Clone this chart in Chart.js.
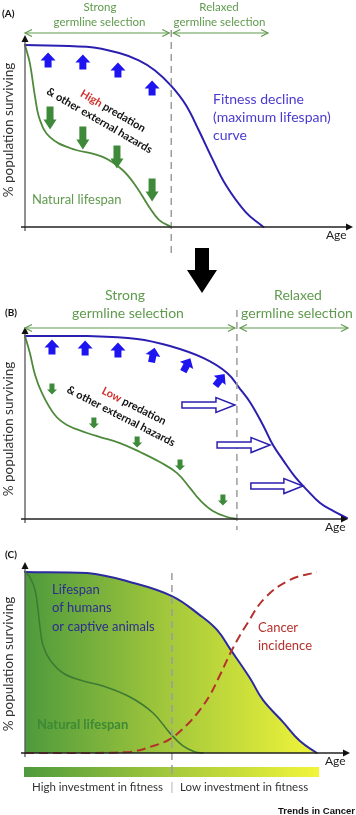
<!DOCTYPE html>
<html><head><meta charset="utf-8">
<script src="https://cdn.jsdelivr.net/npm/chart.js@4.4.0/dist/chart.umd.min.js"></script>
<style>
html,body{margin:0;padding:0;background:#fff;width:356px;height:815px;overflow:hidden;}
canvas{position:absolute;left:0;}
</style></head><body>
<canvas id="cA" width="356" height="300" style="top:0"></canvas>
<canvas id="cB" width="356" height="280" style="top:255px"></canvas>
<canvas id="cC" width="356" height="280" style="top:535px"></canvas>
<script>
// ---------- DATA (age in % of axis length, survival in %) ----------
// Panel A
const ageA_fitness  = [0, 19, 29, 35, 40, 45, 49.5, 53.5, 57.5, 61.8, 67.9, 72.8, 73.4];
const survA_fitness = [100, 99, 95.6, 91.5, 86, 77.5, 67, 53, 38, 23.1, 8.2, 0.8, 0];
const ageA_natural  = [0, 1.5, 3.1, 4.6, 7.6, 13.8, 23.9, 30, 34.3, 38.2, 41.3, 45];
const survA_natural = [100, 90, 71.4, 58.8, 49.5, 43.4, 38.5, 31.3, 22, 11, 3.8, 0];
const sepA = 45;
const upA_age = [7.1, 17.8, 28.6, 39.1];
const upA_surv = [91.8, 90.7, 86.3, 76.4];
const downA_age = [7.7, 17.8, 28.3, 39.1];
const downA_surv = [59.9, 48.9, 38.5, 20.3];

// Panel B
const ageB_fitness  = [0, 19.1, 34.5, 44.6, 54.8, 62.2, 66.2, 69.2, 73.2, 76.3, 79.4, 83.1, 86.8, 90.8, 94.8, 99.1];
const survB_fitness = [100, 100, 98.4, 94.5, 88, 79.8, 71, 63.9, 51.4, 40.4, 32.2, 23, 15.8, 8.7, 4.4, 0.5];
const ageB_natural  = [0, 1.5, 3.1, 5.2, 9.2, 12.9, 19.1, 23.1, 29.2, 35.4, 41.5, 46.8, 50.8, 53.8, 57.8, 62.2, 65.2];
const survB_natural = [100, 90.7, 78.7, 68.9, 56.8, 51.4, 47, 44.8, 41.5, 36.6, 31.1, 25.1, 16.9, 10.4, 4.4, 1.1, 0];
const sepB = 65.2;
const upB_age = [8.3, 18.5, 28.6, 39.4, 49.8, 60];
const upB_surv = [94, 93.4, 92.3, 89.6, 84.2, 76];
const upB_tilt = [0, 0, 0, 12, 28, 38];
const downB_age = [8.3, 21.2, 34.5, 47.7, 60.9];
const downB_surv = [71, 52.5, 42.1, 29.5, 10.4];
const shiftB_from = [48.3, 59.1, 69.5];
const shiftB_to = [64.6, 75.4, 85.5];
const shiftB_surv = [62.3, 40.4, 18];

// Panel C
const ageC_fitness  = [0, 19.1, 32.3, 45.2, 53.8, 59.1, 63.1, 69.2, 73.2, 79.4, 84.6, 89.8];
const survC_fitness = [100, 99.4, 94.5, 86.7, 76.2, 68, 57.5, 41.4, 29.3, 17.1, 6.6, 0];
const ageC_natural  = [0, 1.5, 3.1, 4, 4.6, 5.5, 7.7, 11.7, 16.9, 24, 32.3, 39.4, 44.6, 48.6, 52.3, 54.8];
const survC_natural = [100, 97.2, 90, 79, 69.6, 59.7, 51.4, 44.2, 40.3, 37, 30.9, 22.1, 11, 3.9, 0.6, 0];
const ageC_cancer   = [0, 19.1, 32.3, 39.4, 44.6, 49.8, 53.8, 56.9, 60, 64, 68.3, 73.8, 81.5, 89.8];
const cancerC       = [0, 0, 0.6, 3.9, 7.7, 15.5, 23.8, 32, 43.1, 58, 71.3, 85.6, 95.6, 100];
const sepC = 45.2;

// ---------- helpers ----------
const F = 'Lato, "Open Sans", sans-serif';
const BLUE = '#2b1fb0', BLUE_T = '#4a3bcf', BLUE_A = '#1d14f0';
const GREEN = '#4f8a3c', GREEN_A = '#3f8a3a', GREEN_T = '#5f9a4d';
const RED_T = '#d2302c', CANCER = '#b5312c';
const pts = (xs, ys) => xs.map((x, i) => ({x, y: ys[i]}));

function txt(ctx, s, x, y, font, color, align, base) {
  ctx.font = font; ctx.fillStyle = color;
  ctx.textAlign = align || 'left'; ctx.textBaseline = base || 'middle';
  ctx.fillText(s, x, y);
}
function ylabel(ctx, cy) {
  ctx.save(); ctx.translate(9, cy); ctx.rotate(-Math.PI / 2);
  txt(ctx, '% population surviving', 0, 0, '13.5px ' + F, '#333', 'center');
  ctx.restore();
}
function vdash(ctx, x, y1, y2) {
  ctx.save(); ctx.strokeStyle = '#9c9c9c'; ctx.lineWidth = 1.5; ctx.setLineDash([7, 5]);
  ctx.beginPath(); ctx.moveTo(x, y1); ctx.lineTo(x, y2); ctx.stroke(); ctx.restore();
}
function axes(ctx, ca, yTop, xRight) {
  ctx.save();
  ctx.lineWidth = 1.3; ctx.strokeStyle = '#555';
  ctx.beginPath(); ctx.moveTo(ca.left, ca.bottom + 4); ctx.lineTo(ca.left, yTop + 5); ctx.stroke();
  ctx.strokeStyle = '#222';
  ctx.beginPath(); ctx.moveTo(ca.left - 4, ca.bottom); ctx.lineTo(xRight - 5, ca.bottom); ctx.stroke();
  ctx.fillStyle = '#111';
  ctx.beginPath(); ctx.moveTo(ca.left, yTop); ctx.lineTo(ca.left - 3.5, yTop + 7); ctx.lineTo(ca.left + 3.5, yTop + 7); ctx.closePath(); ctx.fill();
  ctx.beginPath(); ctx.moveTo(xRight, ca.bottom); ctx.lineTo(xRight - 7, ca.bottom - 3.5); ctx.lineTo(xRight - 7, ca.bottom + 3.5); ctx.closePath(); ctx.fill();
  ctx.restore();
}
function dbl(ctx, x1, x2, y, col) {
  ctx.save(); ctx.strokeStyle = col; ctx.lineWidth = 1.2;
  ctx.beginPath(); ctx.moveTo(x1, y); ctx.lineTo(x2, y); ctx.stroke();
  ctx.beginPath();
  ctx.moveTo(x1 + 7, y - 3.5); ctx.lineTo(x1, y); ctx.lineTo(x1 + 7, y + 3.5);
  ctx.moveTo(x2 - 7, y - 3.5); ctx.lineTo(x2, y); ctx.lineTo(x2 - 7, y + 3.5);
  ctx.stroke(); ctx.restore();
}
function block(ctx, cx, cy, ang, len, sw, hw, hl, fill, stroke) {
  ctx.save(); ctx.translate(cx, cy); ctx.rotate(ang);
  const h = len / 2;
  ctx.beginPath();
  ctx.moveTo(-h, -sw / 2); ctx.lineTo(h - hl, -sw / 2); ctx.lineTo(h - hl, -hw / 2); ctx.lineTo(h, 0);
  ctx.lineTo(h - hl, hw / 2); ctx.lineTo(h - hl, sw / 2); ctx.lineTo(-h, sw / 2); ctx.closePath();
  if (fill) { ctx.fillStyle = fill; ctx.fill(); }
  if (stroke) { ctx.strokeStyle = stroke; ctx.lineWidth = 1.5; ctx.stroke(); }
  ctx.restore();
}
function hazard(ctx, cx, cy, ang, word, color, rest, rest2) {
  ctx.save(); ctx.translate(cx, cy); ctx.rotate(ang);
  const f = 'bold 11px ' + F;
  ctx.font = f;
  const w1 = ctx.measureText(word).width, w2 = ctx.measureText(rest).width;
  const x0 = -(w1 + w2) / 2;
  txt(ctx, word, x0, 0, f, color);
  txt(ctx, rest, x0 + w1, 0, f, '#111');
  txt(ctx, rest2, -7, 15, f, '#111', 'center');
  ctx.restore();
}
function mk(id, datasets, pad, deco) {
  return new Chart(document.getElementById(id), {
    type: 'line',
    data: {datasets},
    options: {
      responsive: false, animation: false, events: [],
      layout: {padding: pad},
      plugins: {legend: {display: false}, tooltip: {enabled: false}},
      scales: {x: {type: 'linear', min: 0, max: 100, display: false},
               y: {type: 'linear', min: 0, max: 100, display: false}},
      elements: {point: {radius: 0}, line: {tension: 0.4, borderCapStyle: 'round'}}
    },
    plugins: [{id: 'deco', afterDatasetsDraw(chart) {
      const xs = chart.scales.x, ys = chart.scales.y;
      deco(chart.ctx, v => xs.getPixelForValue(v), v => ys.getPixelForValue(v), chart.chartArea);
    }}]
  });
}

// ---------- Panel A ----------
mk('cA', [
  {data: pts(ageA_natural, survA_natural), borderColor: GREEN, borderWidth: 1.8, clip: false},
  {data: pts(ageA_fitness, survA_fitness), borderColor: BLUE, borderWidth: 2, clip: false}
], {left: 25, right: 6, top: 45, bottom: 73}, (ctx, X, Y, ca) => {
  vdash(ctx, X(sepA), 30, 253);
  axes(ctx, ca, 35, 353);
  txt(ctx, '(A)', 2, 14, 'bold 10px ' + F, '#111');
  txt(ctx, 'Strong', 100, 7, '11.5px ' + F, GREEN_T, 'center');
  txt(ctx, 'germline selection', 99.5, 22, '11.5px ' + F, GREEN_T, 'center');
  txt(ctx, 'Relaxed', 219, 7, '11.5px ' + F, GREEN_T, 'center');
  txt(ctx, 'germline selection', 219.5, 22, '11.5px ' + F, GREEN_T, 'center');
  dbl(ctx, ca.left, X(sepA) - 2, 33, GREEN_T);
  dbl(ctx, X(sepA) + 2, 268, 33, GREEN_T);
  upA_age.forEach((a, i) => block(ctx, X(a), Y(upA_surv[i]), -Math.PI / 2, 15, 7, 15, 8, BLUE_A));
  downA_age.forEach((a, i) => block(ctx, X(a), Y(downA_surv[i]), Math.PI / 2, 23, 7, 13, 10, GREEN_A));
  hazard(ctx, 113, 111, 30 * Math.PI / 180, 'High', RED_T, ' predation', '& other external hazards');
  txt(ctx, 'Fitness decline', 213, 99, '14px ' + F, BLUE_T);
  txt(ctx, '(maximum lifespan)', 213, 117, '14px ' + F, BLUE_T);
  txt(ctx, 'curve', 213, 135, '14px ' + F, BLUE_T);
  txt(ctx, 'Natural lifespan', 32, 200, '13px ' + F, GREEN_T);
  txt(ctx, 'Age', 326, 235, '12px ' + F, '#222');
  ylabel(ctx, 130);
  // transition arrow between panels
  block(ctx, 202, 270.5, Math.PI / 2, 45, 14, 30, 23, '#000');
});

// ---------- Panel B ----------
mk('cB', [
  {data: pts(ageB_natural, survB_natural), borderColor: GREEN, borderWidth: 1.8, clip: false},
  {data: pts(ageB_fitness, survB_fitness), borderColor: BLUE, borderWidth: 2, clip: false}
], {left: 25, right: 6, top: 81, bottom: 16}, (ctx, X, Y, ca) => {
  vdash(ctx, X(sepB), 55, 275);
  axes(ctx, ca, 72, 348);
  txt(ctx, '(B)', 5, 58, 'bold 10px ' + F, '#111');
  txt(ctx, 'Strong', 125, 40, '14px ' + F, GREEN_T, 'center');
  txt(ctx, 'germline selection', 128, 58, '14px ' + F, GREEN_T, 'center');
  txt(ctx, 'Relaxed', 298, 40, '14px ' + F, GREEN_T, 'center');
  txt(ctx, 'germline selection', 297, 58, '14px ' + F, GREEN_T, 'center');
  dbl(ctx, ca.left, X(sepB) - 2, 73, GREEN_T);
  dbl(ctx, X(sepB) + 3, 348, 73, GREEN_T);
  upB_age.forEach((a, i) => block(ctx, X(a), Y(upB_surv[i]), -Math.PI / 2 + upB_tilt[i] * Math.PI / 180, 15, 7, 15, 8, BLUE_A));
  downB_age.forEach((a, i) => block(ctx, X(a), Y(downB_surv[i]), Math.PI / 2, 11, 5, 10, 5, GREEN_A));
  shiftB_from.forEach((a, i) => {
    const x1 = X(a), x2 = X(shiftB_to[i]);
    block(ctx, (x1 + x2) / 2, Y(shiftB_surv[i]), 0, x2 - x1, 6, 15, 19, '#fff', BLUE);
  });
  hazard(ctx, 134, 151, 27 * Math.PI / 180, 'Low', RED_T, ' predation', '& other external hazards');
  txt(ctx, 'Age', 325, 272, '12px ' + F, '#222');
  ylabel(ctx, 174);
});

// ---------- Panel C ----------
function grad(ctx, x1, x2) {
  const g = ctx.createLinearGradient(x1, 0, x2, 0);
  g.addColorStop(0, '#4e9a3d'); g.addColorStop(0.5, '#a5c93b'); g.addColorStop(1, '#f2f53a');
  return g;
}
mk('cC', [
  {data: pts(ageC_cancer, cancerC), borderColor: CANCER, borderWidth: 2, borderDash: [9, 5], borderCapStyle: 'butt', clip: false},
  {data: pts(ageC_natural, survC_natural), borderColor: '#3f7a33', borderWidth: 1.6, clip: false},
  {data: pts(ageC_fitness, survC_fitness), borderColor: '#2b2a9e', borderWidth: 2, clip: false, fill: 'origin',
   backgroundColor: c => { const ch = c.chart; if (!ch.chartArea) return 'transparent';
     return grad(ch.ctx, ch.chartArea.left, ch.scales.x.getPixelForValue(90.5)); }}
], {left: 25, right: 6, top: 37, bottom: 62}, (ctx, X, Y, ca) => {
  vdash(ctx, X(sepC), 38, 242);
  axes(ctx, ca, 27, 350);
  txt(ctx, '(C)', 5, 20, 'bold 10px ' + F, '#111');
  txt(ctx, 'Lifespan', 52, 55, '13px ' + F, '#2d2d8f');
  txt(ctx, 'of humans', 52, 73, '13px ' + F, '#2d2d8f');
  txt(ctx, 'or captive animals', 52, 92, '13px ' + F, '#2d2d8f');
  txt(ctx, 'Cancer', 258, 93, '13px ' + F, CANCER);
  txt(ctx, 'incidence', 258, 111, '13px ' + F, CANCER);
  txt(ctx, 'Natural lifespan', 37, 190, 'bold 13px ' + F, '#3e8a35');
  txt(ctx, 'Age', 325, 226, '12px ' + F, '#222');
  ctx.fillStyle = grad(ctx, X(0) - 1, X(90.5));
  ctx.fillRect(X(0) - 1, 232, X(90.5) - X(0) + 1, 10);
  vdash(ctx, X(sepC), 232, 242);
  txt(ctx, 'High investment in fitness', 163, 252, '11.5px ' + F, '#333', 'right');
  txt(ctx, '|', X(sepC), 252, '11.5px ' + F, '#aaa', 'center');
  txt(ctx, 'Low investment in fitness', 180, 252, '11.5px ' + F, '#333');
  txt(ctx, 'Trends in Cancer', 355, 276, 'bold 9.5px "Liberation Sans Narrow", "Liberation Sans", sans-serif', '#111', 'right');
  ylabel(ctx, 129);
});
</script>
</body></html>
